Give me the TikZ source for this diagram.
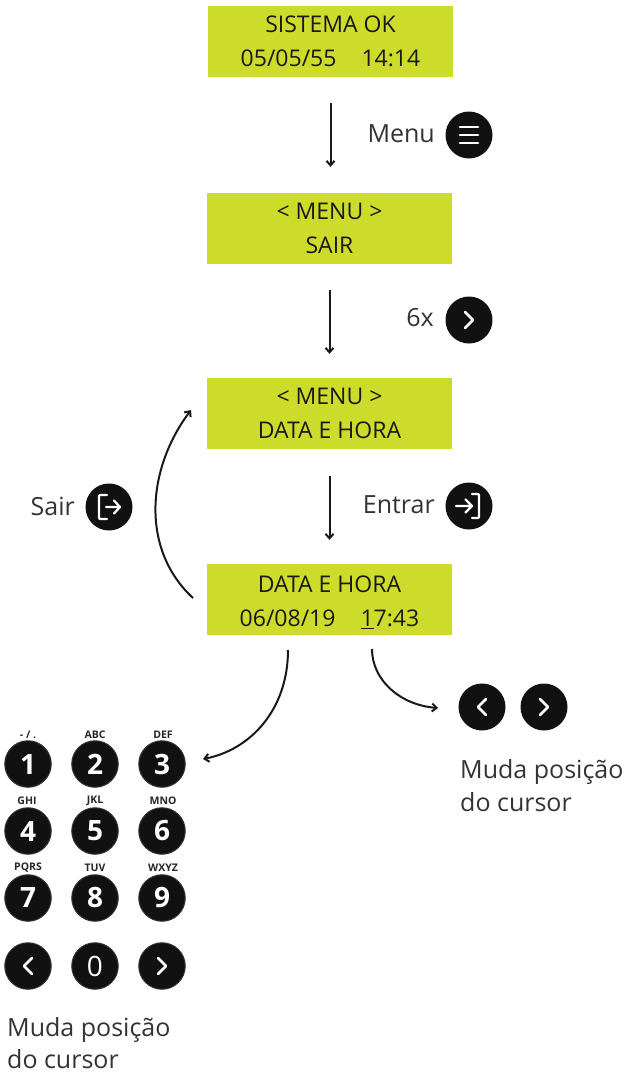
\documentclass[tikz,border=0pt]{standalone}
\usepackage{fontspec}
\setmainfont{Open Sans}
\usetikzlibrary{arrows.meta}
\definecolor{lcd}{HTML}{CDDC2A}
\definecolor{btn}{HTML}{111111}
\definecolor{rim}{HTML}{333333}
\definecolor{lbl}{HTML}{333333}
\newcommand{\lcdfont}{\fontsize{23}{34}\selectfont}
\newcommand{\lblfont}{\fontsize{25}{32}\selectfont}
\tikzset{
  lcdbox/.style={fill=lcd,minimum width=245pt,minimum height=71pt,inner sep=0pt,align=center,text=black!90,font=\lcdfont},
  btnc/.style={circle,fill=btn,minimum size=47pt,inner sep=0pt,text=white},
  keyc/.style={btnc,draw=rim,line width=1pt,minimum size=46.5pt,font=\fontsize{28}{28}\selectfont\bfseries},
  zero/.style={btnc,draw=rim,line width=1pt,minimum size=46.5pt,font=\fontsize{28}{28}\selectfont},
  keylbl/.style={font=\fontsize{10.5}{10.5}\selectfont\bfseries,text=black!85,inner sep=0pt},
  lbltext/.style={font=\lblfont,text=lbl,inner sep=0pt},
  conn/.style={line width=2pt,black!90,-{Straight Barb[length=4.5pt,width=8pt]}},
  icon/.style={white,line width=2.6pt,line cap=round,line join=round},
  iconb/.style={white,line width=2.2pt,line cap=round,line join=round}
}
\newcommand{\chevR}[1]{\draw[icon,shift={(#1)}] (-4,-8) -- (4,0) -- (-4,8);}
\newcommand{\chevL}[1]{\draw[icon,shift={(#1)}] (4,-8) -- (-4,0) -- (4,8);}
\begin{document}
\begin{tikzpicture}[x=1pt,y=-1pt]
\useasboundingbox (0,0) rectangle (629,1073);
% displays
\node[lcdbox] (d1) at (330.5,41.5) {SISTEMA OK\\05/05/55\hspace{25pt}14:14};
\node[lcdbox] (d2) at (329.5,228.5) {< MENU >\\SAIR};
\node[lcdbox] (d3) at (329.5,413.5) {< MENU >\\DATA E HORA};
\node[lcdbox] (d4) at (329.5,599.5) {\rule{0pt}{22pt}DATA E HORA\\06/08/19\hspace{25pt}\underline{1}7:43};
% straight connectors
\draw[conn] ([yshift=-26pt]d1.south) -- ([yshift=26pt]d2.north -| d1.south);
\draw[conn] ([yshift=-26pt]d2.south) -- ([yshift=24pt]d3.north);
\draw[conn] ([yshift=-27pt]d3.south) -- ([yshift=24pt]d4.north);
% side buttons
\node[btnc] (bmenu) at (469,135) {};
\draw[icon,shift={(bmenu)}] (-9,-8) -- (9,-8) (-9,0) -- (9,0) (-9,8) -- (9,8);
\node[lbltext,anchor=east] (lmenu) at (435,134) {Menu};
\node[btnc] (bnext) at (469,320) {};
\chevR{bnext}
\node[lbltext,anchor=east] (l6x) at (434,318) {6x};
\node[btnc] (bsair) at (109,507) {};
\draw[iconb,shift={(bsair)}] (-2,-12) -- (-9,-12) -- (-10,-11) -- (-10,11) -- (-9,12) -- (-2,12);
\draw[iconb,shift={(bsair)}] (-3,0) -- (11,0) (5,-6.5) -- (11,0) -- (5,6.5);
\node[lbltext,anchor=east] (lsair) at (75,506) {Sair};
\node[btnc] (bentrar) at (469,506) {};
\draw[iconb,shift={(bentrar)}] (3,-12) -- (9,-12) -- (10,-11) -- (10,11) -- (9,12) -- (3,12);
\draw[iconb,shift={(bentrar)}] (-13,0) -- (3,0) (-3.5,-6.5) -- (3,0) -- (-3.5,6.5);
\node[lbltext,anchor=east] (lentrar) at (435,505) {Entrar};
% cursor buttons right
\node[btnc] (cl) at (482,707) {};
\chevL{cl}
\node[btnc] (cr) at (544,707) {};
\chevR{cr}
\node[lbltext,anchor=west] (m1) at (460,772) {Muda posição};
\node[lbltext,anchor=west] (m2) at (460,802) {do cursor};
% keypad
\node[keyc] (k1) at (28,764) {1};
\node[keyc] (k2) at (95,764) {2};
\node[keyc] (k3) at (162,764) {3};
\node[keyc] (k4) at (28,831) {4};
\node[keyc] (k5) at (95,831) {5};
\node[keyc] (k6) at (162,831) {6};
\node[keyc] (k7) at (28,898) {7};
\node[keyc] (k8) at (95,898) {8};
\node[keyc] (k9) at (162,898) {9};
\node[keyc] (kl) at (28,966) {};
\chevL{kl}
\node[zero] (k0) at (95,966) {0};
\node[keyc] (kr) at (162,966) {};
\chevR{kr}
\node[keylbl] (t1) at (28,735) {- / .};
\node[keylbl] (t2) at (95,735) {ABC};
\node[keylbl] (t3) at (163,735) {DEF};
\node[keylbl] (t4) at (27,801) {GHI};
\node[keylbl] (t5) at (95,801) {JKL};
\node[keylbl] (t6) at (163,801) {MNO};
\node[keylbl] (t7) at (28,868) {PQRS};
\node[keylbl] (t8) at (95,868) {TUV};
\node[keylbl] (t9) at (163,868) {WXYZ};
\node[lbltext,anchor=west] (m3) at (7,1030) {Muda posição};
\node[lbltext,anchor=west] (m4) at (7,1059) {do cursor};
% curved connectors
\coordinate (sa) at (193,598);
\coordinate (se) at (191,410);
\draw[conn] (sa) .. controls (141,550) and (146,470) .. (se);
\coordinate (ka) at (288,650);
\coordinate (ke) at (203,759);
\draw[conn] (ka) .. controls (288,710) and (250,750) .. (ke);
\coordinate (ca) at (372,649);
\coordinate (ce) at (438,708);
\draw[conn] (ca) .. controls (372,680) and (400,705) .. (ce);
\end{tikzpicture}
\end{document}
